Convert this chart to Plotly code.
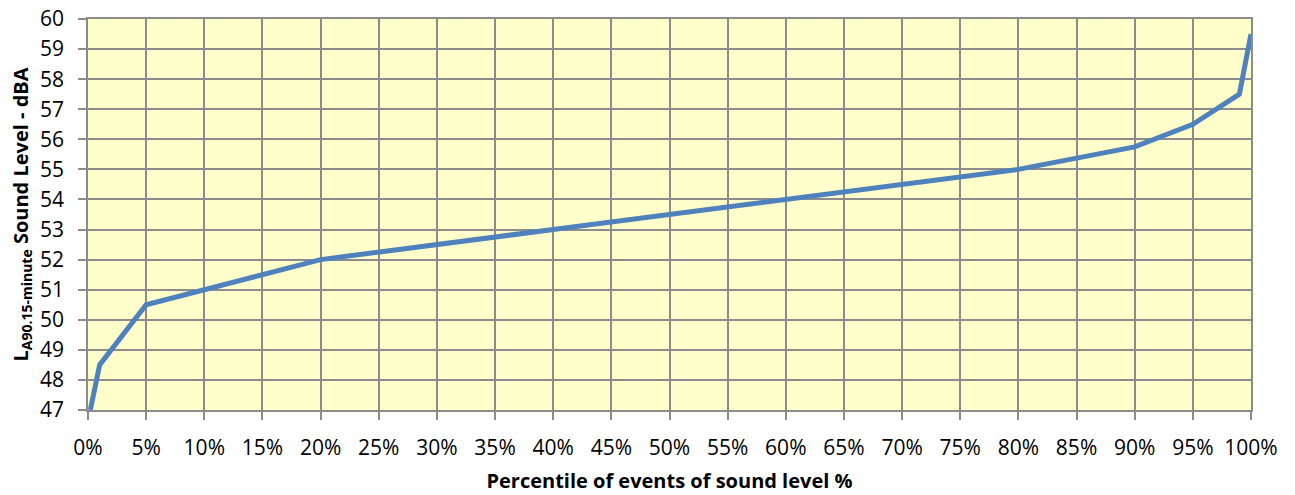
import plotly.graph_objects as go

# Cumulative distribution of 15-minute LA90 sound levels
percentile = [0.2, 1, 5, 10, 20, 40, 60, 80, 90, 95, 99, 100]
sound_level = [47, 48.5, 50.5, 51, 52, 53, 54, 55, 55.75, 56.5, 57.5, 59.5]

x_ticks = list(range(0, 101, 5))
x_tick_text = [f"{v}%" for v in x_ticks]
y_ticks = list(range(47, 61))

FONT = "Open Sans"
GRID = "#8c8c8c"

fig = go.Figure()
fig.add_trace(go.Scatter(
    x=percentile,
    y=sound_level,
    mode="lines",
    line=dict(color="#4f81bd", width=5),
    showlegend=False,
))

fig.update_layout(
    width=1295,
    height=495,
    margin=dict(l=88, r=44, t=19, b=85, autoexpand=False),
    paper_bgcolor="white",
    plot_bgcolor="#ffffcc",
    font=dict(family=FONT, size=21, color="#000000"),
    xaxis=dict(
        range=[0, 100],
        tickmode="array",
        tickvals=x_ticks,
        ticktext=x_tick_text,
        showgrid=True,
        gridcolor=GRID,
        gridwidth=1.5,
        showline=True,
        linecolor=GRID,
        linewidth=1.5,
        mirror=True,
        ticks="outside",
        ticklen=8,
        tickwidth=1.5,
        tickcolor=GRID,
        ticklabelstandoff=10,
        zeroline=False,
        automargin=False,
        title=dict(
            text="<b>Percentile of events of sound level %</b>",
            font=dict(family=FONT, size=20),
            standoff=14,
        ),
    ),
    yaxis=dict(
        range=[47, 60],
        tickmode="array",
        tickvals=y_ticks,
        showgrid=True,
        gridcolor=GRID,
        gridwidth=1.5,
        showline=True,
        linecolor=GRID,
        linewidth=1.5,
        mirror=True,
        ticks="outside",
        ticklen=8,
        tickwidth=1.5,
        tickcolor=GRID,
        ticklabelstandoff=10,
        zeroline=False,
        automargin=False,
        title=dict(
            text="<b>L<sub>A90.15-minute</sub> Sound Level - dBA</b>",
            font=dict(family=FONT, size=20),
            standoff=6,
        ),
    ),
)

fig.write_html("out.html")
